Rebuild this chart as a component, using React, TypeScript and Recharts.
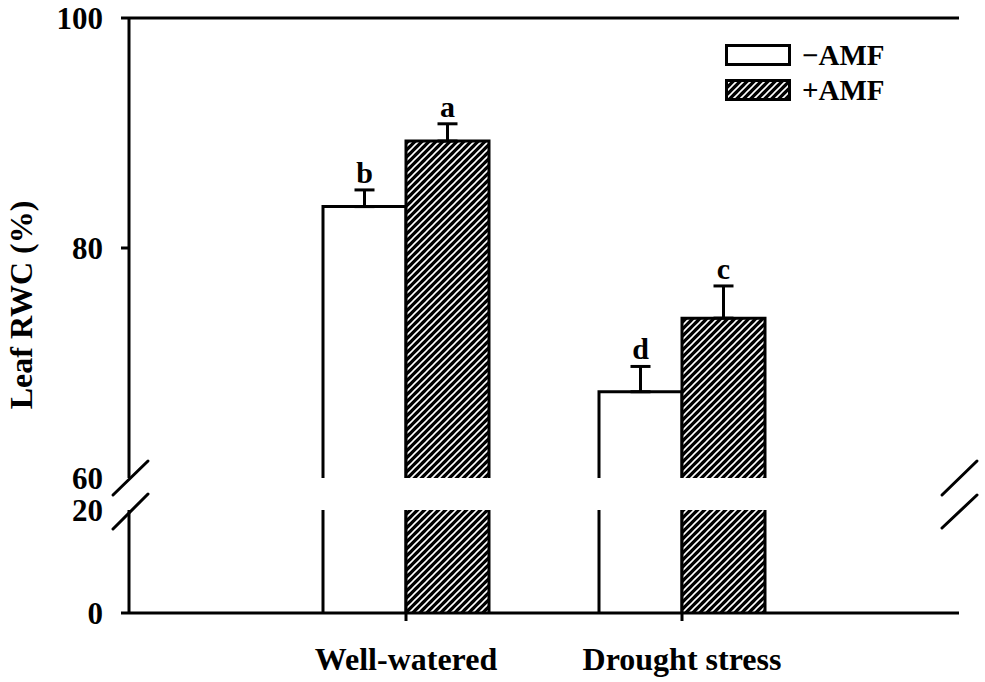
import { BarChart, Bar, XAxis, YAxis, ErrorBar, ReferenceLine, Legend } from 'recharts';

const FONT = '"Liberation Serif", "Times New Roman", serif';

const categories = ['Well-watered', 'Drought stress'];
const minusAmf = [83.6, 67.5];
const plusAmf = [89.3, 73.9];
const minusAmfErr = [1.45, 2.2];
const plusAmfErr = [1.5, 2.8];
const minusLetters = ['b', 'd'];
const plusLetters = ['a', 'c'];
const topTicks = [60, 80, 100];
const bottomTicks = [0, 20];
const markedTicks = [0, 80, 100];

const BREAK_LOW = 20;
const BREAK_HIGH = 60;

const topData = categories.map((name, i) => ({
  name,
  minus: minusAmf[i],
  plus: plusAmf[i],
  minusErr: [0, minusAmfErr[i]],
  plusErr: [0, plusAmfErr[i]],
}));

const bottomData = categories.map((name, i) => ({
  name,
  minus: Math.min(minusAmf[i], BREAK_LOW),
  plus: Math.min(plusAmf[i], BREAK_LOW),
}));

const textStyle = { fontFamily: FONT, fontWeight: 'bold' as const, fill: '#000' };

function HatchDef({ id }: { id: string }) {
  return (
    <defs>
      <pattern id={id} patternUnits="userSpaceOnUse" width="7" height="7">
        <rect width="7" height="7" fill="#000" />
        <path d="M-1,1 l2,-2 M0,7 l7,-7 M6,8 l2,-2" stroke="#fff" strokeWidth="1.6" />
      </pattern>
    </defs>
  );
}

// top part of a bar: left, top and right edges, letter above the error cap
function TopBar(props: any) {
  const { x, y, width, height, hatched, errs, letters, values, index } = props;
  const v = values[index];
  const pxPerUnit = height / (v - BREAK_HIGH);
  const capY = y - errs[index] * pxPerUnit;
  return (
    <g>
      <rect x={x} y={y} width={width} height={height} fill={hatched ? 'url(#hatch)' : '#fff'} />
      <path
        d={`M${x},${y + height} L${x},${y} L${x + width},${y} L${x + width},${y + height}`}
        fill="none"
        stroke="#000"
        strokeWidth={3}
      />
      <text x={x + width / 2} y={capY - 7} textAnchor="middle" fontSize={30} style={textStyle}>
        {letters[index]}
      </text>
    </g>
  );
}

function BottomBar(props: any) {
  const { x, y, width, height, hatched } = props;
  return (
    <g>
      <rect x={x} y={y} width={width} height={height} fill={hatched ? 'url(#hatch)' : '#fff'} />
      <path
        d={`M${x},${y + height} L${x},${y} M${x + width},${y} L${x + width},${y + height}`}
        fill="none"
        stroke="#000"
        strokeWidth={3}
      />
    </g>
  );
}

function YTick(props: any) {
  const { x, y, payload } = props;
  return (
    <g>
      {markedTicks.includes(payload.value) && (
        <line x1={x + 18} x2={x + 26} y1={y} y2={y} stroke="#000" strokeWidth={3} />
      )}
      <text x={x} y={y} dy="0.355em" textAnchor="end" fontSize={31} style={textStyle}>
        {payload.value}
      </text>
    </g>
  );
}

function LegendBox() {
  const rows = [
    { label: '\u2212AMF', hatched: false },
    { label: '+AMF', hatched: true },
  ];
  return (
    <div>
      {rows.map((r) => (
        <div key={r.label} style={{ display: 'flex', alignItems: 'center', height: 35 }}>
          <svg width={68} height={24}>
            <HatchDef id="hatchLegend" />
            <rect
              x={1.5}
              y={1.5}
              width={63}
              height={19}
              fill={r.hatched ? 'url(#hatchLegend)' : '#fff'}
              stroke="#000"
              strokeWidth={3}
            />
          </svg>
          <span style={{ fontFamily: FONT, fontWeight: 'bold', fontSize: 29, marginLeft: 9, lineHeight: '29px' }}>
            {r.label}
          </span>
        </div>
      ))}
    </div>
  );
}

const xPadding = { left: 139, right: 139 };

export default function App() {
  return (
    <div style={{ position: 'absolute', left: 0, top: 0, width: 985, height: 682, background: '#fff' }}>
      <div style={{ position: 'absolute', left: 0, top: 0 }}>
        <BarChart width={985} height={500} data={topData} margin={{ top: 18, right: 26, bottom: 22, left: 69 }} barGap={0}>
          <HatchDef id="hatch" />
          <XAxis dataKey="name" hide padding={xPadding} />
          <YAxis
            domain={[BREAK_HIGH, 100]}
            ticks={topTicks}
            allowDataOverflow
            width={60}
            axisLine={{ stroke: '#000', strokeWidth: 3 }}
            tickLine={false}
            tickSize={8}
            tickMargin={18}
            tick={<YTick />}
          />
          <YAxis yAxisId="right" orientation="right" width={0} tick={false} axisLine={{ stroke: '#000', strokeWidth: 3 }} />
          <ReferenceLine y={100} stroke="#000" strokeWidth={3} />
          <Bar
            dataKey="minus"
            barSize={83}
            isAnimationActive={false}
            shape={(p: any) => <TopBar {...p} hatched={false} errs={minusAmfErr} letters={minusLetters} values={minusAmf} />}
          >
            <ErrorBar dataKey="minusErr" direction="y" width={10} stroke="#000" strokeWidth={3} />
          </Bar>
          <Bar
            dataKey="plus"
            barSize={83}
            isAnimationActive={false}
            shape={(p: any) => <TopBar {...p} hatched errs={plusAmfErr} letters={plusLetters} values={plusAmf} />}
          >
            <ErrorBar dataKey="plusErr" direction="y" width={10} stroke="#000" strokeWidth={3} />
          </Bar>
          <Legend
            layout="horizontal"
            verticalAlign="middle"
            content={() => <LegendBox />}
            wrapperStyle={{ position: 'absolute', left: 725, top: 38, width: 200 }}
          />
        </BarChart>
      </div>
      <div style={{ position: 'absolute', left: 0, top: 490 }}>
        <BarChart width={985} height={192} data={bottomData} margin={{ top: 20, right: 26, bottom: 9, left: 69 }} barGap={0}>
          <HatchDef id="hatch2" />
          <XAxis
            dataKey="name"
            padding={xPadding}
            height={60}
            axisLine={{ stroke: '#000', strokeWidth: 3 }}
            tickLine={{ stroke: '#000', strokeWidth: 3 }}
            tickSize={8}
            tickMargin={26}
            tick={{ fontSize: 32, fontFamily: FONT, fontWeight: 'bold', fill: '#000' }}
          />
          <YAxis
            domain={[0, BREAK_LOW]}
            ticks={bottomTicks}
            allowDataOverflow
            width={60}
            axisLine={{ stroke: '#000', strokeWidth: 3 }}
            tickLine={false}
            tickSize={8}
            tickMargin={18}
            tick={<YTick />}
          />
          <YAxis yAxisId="right" orientation="right" width={0} tick={false} axisLine={{ stroke: '#000', strokeWidth: 3 }} />
          <Bar dataKey="minus" barSize={83} isAnimationActive={false} shape={(p: any) => <BottomBar {...p} hatched={false} />} />
          <Bar dataKey="plus" barSize={83} isAnimationActive={false} shape={(p: any) => <BottomBar {...p} hatched />} />
        </BarChart>
      </div>
      <svg width={985} height={682} style={{ position: 'absolute', left: 0, top: 0, pointerEvents: 'none' }}>
        <g stroke="#000" strokeWidth={3} strokeLinecap="round">
          <line x1={113} y1={495} x2={148} y2={461} />
          <line x1={113} y1={529} x2={148} y2={494} />
          <line x1={942} y1={495} x2={977} y2={461} />
          <line x1={942} y1={528} x2={977} y2={495} />
        </g>
        <text transform="translate(21,305) rotate(-90)" textAnchor="middle" dy="0.35em" fontSize={32} style={textStyle}>
          Leaf RWC (%)
        </text>
      </svg>
    </div>
  );
}
